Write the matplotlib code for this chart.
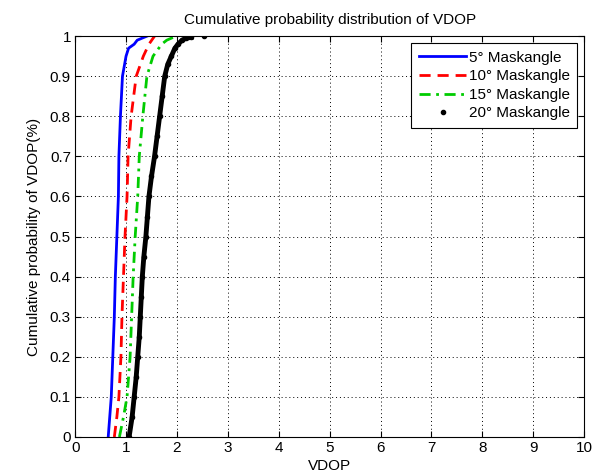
import matplotlib.pyplot as plt
import numpy as np

plt.rcParams['font.family'] = ['Liberation Sans', 'DejaVu Sans']

# CDF levels and VDOP values
cdf_5 = [0.0, 0.1, 0.2, 0.3, 0.4, 0.5, 0.6, 0.7, 0.8, 0.9, 0.95, 0.97, 0.98, 0.99, 1.0]
vdop_5 = [0.65, 0.71, 0.74, 0.77, 0.79, 0.82, 0.85, 0.86, 0.89, 0.93, 1.0, 1.05, 1.16, 1.22, 1.41]

cdf_10 = [0.0, 0.05, 0.1, 0.2, 0.3, 0.4, 0.5, 0.6, 0.7, 0.8, 0.9, 0.95, 0.98, 1.0]
vdop_10 = [0.77, 0.82, 0.86, 0.90, 0.92, 0.95, 0.98, 1.02, 1.04, 1.10, 1.20, 1.34, 1.45, 1.56]

cdf_15 = [0.0, 0.05, 0.1, 0.2, 0.3, 0.4, 0.5, 0.6, 0.7, 0.8, 0.9, 0.95, 0.98, 0.99, 1.0]
vdop_15 = [0.87, 0.95, 1.02, 1.08, 1.11, 1.14, 1.18, 1.23, 1.26, 1.33, 1.41, 1.53, 1.70, 1.80, 1.98]

cdf_20 = [0.0, 0.05, 0.1, 0.15, 0.2, 0.25, 0.3, 0.35, 0.4, 0.45, 0.5, 0.55, 0.6, 0.65,
          0.7, 0.75, 0.8, 0.85, 0.9, 0.93, 0.95, 0.97, 0.98, 0.99, 0.995, 0.997, 1.0]
vdop_20 = [1.06, 1.12, 1.16, 1.20, 1.23, 1.26, 1.28, 1.30, 1.32, 1.35, 1.39, 1.42, 1.45, 1.50,
           1.56, 1.61, 1.66, 1.71, 1.76, 1.82, 1.89, 1.96, 2.02, 2.10, 2.18, 2.28, 2.53]

labels = ['5° Maskangle', '10° Maskangle', '15° Maskangle', '20° Maskangle']

fig = plt.figure(figsize=(6.01, 4.76), dpi=100)
ax = fig.add_axes([0.125, 0.082, 0.847, 0.842])

ax.plot(vdop_5, cdf_5, '-', color='#0000ff', lw=2, label=labels[0])
ax.plot(vdop_10, cdf_10, '--', color='#ff0000', lw=2, dashes=(4, 2.5), label=labels[1])
ax.plot(vdop_15, cdf_15, '-.', color='#00cc00', lw=2, dashes=(4, 2, 1, 2), label=labels[2])
# thick trace under the dots (the dots are dense in the original)
ax.plot(vdop_20[:-1], cdf_20[:-1], '-', color='black', lw=3.5)
ax.plot(vdop_20, cdf_20, '.', color='black', ms=6, label=labels[3])

ax.set_xlim(0, 10)
ax.set_ylim(0, 1)
ax.set_xticks(np.arange(0, 11, 1))
ax.set_yticks(np.arange(0, 1.01, 0.1))
ax.set_yticklabels(['0', '0.1', '0.2', '0.3', '0.4', '0.5', '0.6', '0.7', '0.8', '0.9', '1'])
ax.grid(True, linestyle=(0, (1, 3)), color='black', lw=0.7)
ax.tick_params(direction='in', top=True, right=True, labelsize=11, length=4, pad=3)
for s in ax.spines.values():
    s.set_linewidth(0.8)

ax.set_title('Cumulative probability distribution of VDOP', fontsize=11, pad=9)
ax.set_xlabel('VDOP', fontsize=11, labelpad=3)
ax.set_ylabel('Cumulative probability of VDOP(%)', fontsize=11, labelpad=6)

leg = ax.legend(loc='upper right', fontsize=11, fancybox=False, framealpha=1,
                edgecolor='black', handlelength=3.1, handletextpad=0.15,
                borderaxespad=0.45, labelspacing=0.3, borderpad=0.5)
leg.get_frame().set_linewidth(0.8)

fig.savefig('out.png', dpi=100)
